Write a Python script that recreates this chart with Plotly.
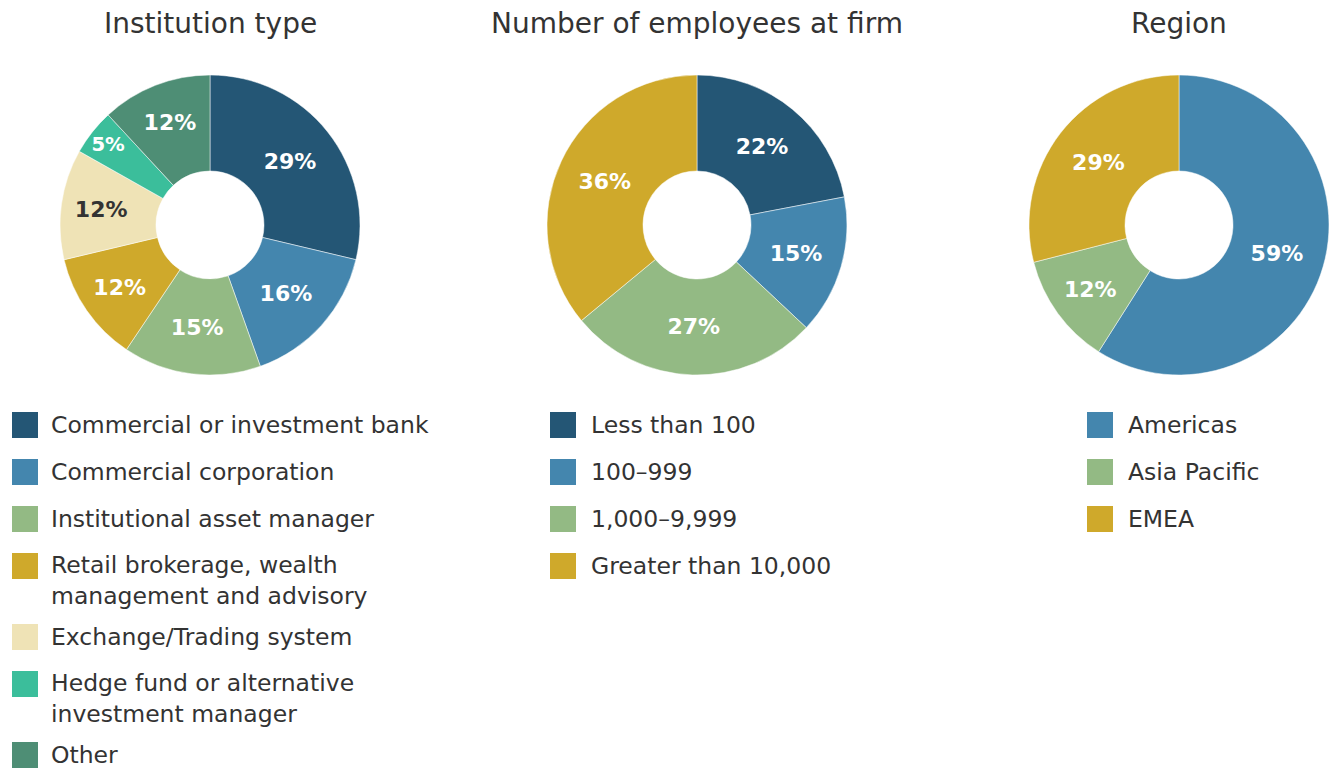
import plotly.graph_objects as go

# ---- data ----
inst_labels = ["Commercial or investment bank", "Commercial corporation", "Institutional asset manager",
               "Retail brokerage, wealth<br>management and advisory", "Exchange/Trading system",
               "Hedge fund or alternative<br>investment manager", "Other"]
inst_values = [29, 16, 15, 12, 12, 5, 12]
inst_colors = ["#245675", "#4486AE", "#93BA84", "#CFA92B", "#EFE3B6", "#3BBE9B", "#4E8E75"]
inst_textcolors = ["white", "white", "white", "white", "#333333", "white", "white"]

emp_labels = ["Less than 100", "100–999", "1,000–9,999", "Greater than 10,000"]
emp_values = [22, 15, 27, 36]
emp_colors = ["#245675", "#4486AE", "#93BA84", "#CFA92B"]

reg_labels = ["Americas", "Asia Pacific", "EMEA"]
reg_values = [59, 12, 29]
reg_colors = ["#4486AE", "#93BA84", "#CFA92B"]

titles = ["Institution type", "Number of employees at firm", "Region"]

W, H = 1336, 769
FONT = "DejaVu Sans"

charts = [
    dict(labels=inst_labels, values=inst_values, colors=inst_colors, tcol=inst_textcolors, cx=210, swx=12, tx=50),
    dict(labels=emp_labels, values=emp_values, colors=emp_colors, tcol=["white"] * 4, cx=697, swx=550, tx=590),
    dict(labels=reg_labels, values=reg_values, colors=reg_colors, tcol=["white"] * 3, cx=1179, swx=1087, tx=1127),
]

CY, R = 225, 150

fig = go.Figure()
shapes = []
annotations = []
for title, c in zip(titles, charts):
    fig.add_trace(go.Pie(
        labels=[l.replace("<br>", " ") for l in c["labels"]],
        values=c["values"],
        hole=0.36,
        sort=False,
        direction="clockwise",
        rotation=0,
        marker=dict(colors=c["colors"], line=dict(color="white", width=0.5)),
        texttemplate="<b>%{value}%</b>",
        textposition="inside",
        insidetextorientation="horizontal",
        textfont=dict(family=FONT, size=22, color=c["tcol"]),
        showlegend=False,
        hoverinfo="label+value",
        domain=dict(x=[(c["cx"] - R) / W, (c["cx"] + R) / W],
                    y=[1 - (CY + R) / H, 1 - (CY - R) / H]),
    ))
    annotations.append(dict(text=title, x=c["cx"] / W, y=1 - 23 / H, xref="paper", yref="paper",
                            xanchor="center", yanchor="middle", showarrow=False,
                            font=dict(family=FONT, size=28, color="#333333")))
    # custom legend
    y = 425
    for lab, col in zip(c["labels"], c["colors"]):
        nlines = lab.count("<br>") + 1
        shapes.append(dict(type="rect", xref="paper", yref="paper",
                           x0=c["swx"] / W, x1=(c["swx"] + 26) / W,
                           y0=1 - (y + 13) / H, y1=1 - (y - 13) / H,
                           fillcolor=col, line=dict(width=0)))
        yc = y + (nlines - 1) * 29 / 2
        annotations.append(dict(text=lab, x=c["tx"] / W, y=1 - yc / H, xref="paper", yref="paper",
                                xanchor="left", yanchor="middle", align="left", showarrow=False,
                                borderpad=0,
                                font=dict(family=FONT, size=23.5, color="#333333")))
        y += 47 + 24 * (nlines - 1)

fig.update_layout(width=W, height=H, margin=dict(l=0, r=0, t=0, b=0),
                  paper_bgcolor="white", plot_bgcolor="white",
                  shapes=shapes, annotations=annotations)
fig.write_html("out.html")
